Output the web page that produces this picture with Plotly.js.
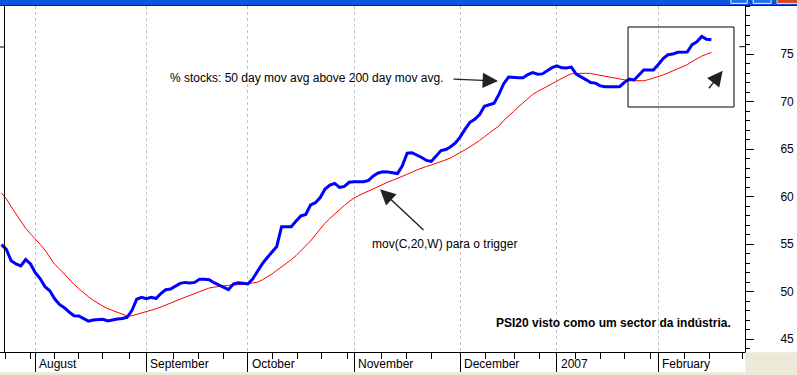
<!DOCTYPE html>
<html><head><meta charset="utf-8">
<script src="https://cdn.plot.ly/plotly-3.0.1.min.js"></script>
<style>html,body{margin:0;padding:0;background:#fff;overflow:hidden}#chart{width:797px;height:375px}</style>
</head><body><div id="chart"></div>
<script>
// trading-day index of first value
const startDay = -1;
const monthStarts = [6, 29, 50, 72, 94, 114, 135];
const monthLabels = ['August', 'September', 'October', 'November', 'December', '2007', 'February'];
const weekTicks = [-0.2, 5, 10, 15, 20, 25.5, 34.6, 39.8, 44.9, 55.2, 60.3, 65.3, 70.6, 77.7, 82.9, 88.1, 99.3, 105.3, 110.4, 117.8, 123, 128.1, 133.3, 140.5, 145.7, 152.5];
const yTicks = [45, 50, 55, 60, 65, 70, 75];
const yTickText = ['45', '50', '55', '60', '65', '70', '75'];

// % stocks: 50 day mov avg above 200 day mov avg
const pctAbove = [54.95, 54.45, 53.25, 52.92, 52.72, 53.39, 52.92, 52.01, 51.39, 50.53,
  50.10, 49.26, 48.66, 48.32, 47.87, 47.48, 47.45, 47.13, 46.90, 47.02,
  47.10, 47.10, 46.92, 47.06, 47.13, 47.19, 47.31, 48.02, 49.21, 49.41,
  49.27, 49.41, 49.28, 49.81, 50.21, 50.29, 50.63, 50.88, 50.98, 50.93,
  50.98, 51.31, 51.32, 51.26, 50.95, 50.73, 50.48, 50.21, 50.81, 50.95,
  50.88, 50.81, 51.34, 52.15, 52.92, 53.57, 54.15, 54.76, 56.84, 56.84,
  56.84, 57.44, 57.97, 58.12, 59.12, 59.36, 59.90, 60.80, 61.22, 61.39,
  60.97, 61.07, 61.51, 61.56, 61.59, 61.56, 61.70, 62.17, 62.49, 62.62,
  62.59, 62.53, 62.43, 63.24, 64.57, 64.62, 64.38, 64.12, 63.81, 63.70,
  64.26, 64.85, 64.96, 65.25, 65.65, 66.29, 67.10, 67.82, 68.14, 68.62,
  69.51, 69.69, 69.83, 70.75, 71.88, 72.58, 72.51, 72.51, 72.51, 72.84,
  73.05, 72.88, 72.91, 73.21, 73.56, 73.76, 73.55, 73.53, 73.62, 72.88,
  72.62, 72.31, 72.00, 71.94, 71.65, 71.56, 71.56, 71.56, 71.56, 72.02,
  72.37, 72.27, 72.84, 73.32, 73.32, 73.32, 73.89, 74.52, 74.92, 74.99,
  75.18, 75.21, 75.21, 75.99, 76.28, 76.85, 76.56, 76.49];

// mov(C,20,W) trigger
const trigger = [60.38, 59.77, 58.95, 58.18, 57.41, 56.67, 56.09, 55.58, 54.99, 54.39,
  53.63, 52.88, 52.40, 51.83, 51.33, 50.79, 50.31, 49.86, 49.47, 49.10,
  48.76, 48.48, 48.22, 48.03, 47.83, 47.64, 47.45, 47.47, 47.61, 47.77,
  47.87, 48.03, 48.21, 48.39, 48.61, 48.84, 49.02, 49.21, 49.42, 49.61,
  49.79, 49.98, 50.18, 50.39, 50.48, 50.56, 50.63, 50.67, 50.71, 50.74,
  50.78, 50.81, 50.92, 51.00, 51.24, 51.54, 51.87, 52.24, 52.60, 52.96,
  53.37, 53.80, 54.31, 54.81, 55.34, 55.98, 56.65, 57.20, 57.71, 58.19,
  58.65, 59.07, 59.48, 59.86, 60.12, 60.36, 60.62, 60.87, 61.13, 61.34,
  61.53, 61.72, 61.91, 62.10, 62.30, 62.56, 62.81, 63.03, 63.18, 63.33,
  63.49, 63.66, 63.87, 64.07, 64.33, 64.63, 64.93, 65.22, 65.54, 65.91,
  66.30, 66.67, 67.01, 67.43, 68.01, 68.44, 68.93, 69.41, 69.89, 70.37,
  70.76, 71.05, 71.33, 71.60, 71.89, 72.15, 72.43, 72.70, 72.91, 72.97,
  72.97, 72.97, 72.96, 72.85, 72.75, 72.64, 72.55, 72.44, 72.35, 72.27,
  72.19, 72.19, 72.19, 72.19, 72.31, 72.47, 72.60, 72.80, 73.01, 73.21,
  73.45, 73.66, 73.88, 74.21, 74.53, 74.78, 74.97, 75.18];

const FONT = "Arial, 'Liberation Sans', sans-serif";

const traces = [
  {type: 'scatter', mode: 'lines', x0: startDay, dx: 1, y: trigger,
   line: {color: '#ff0000', width: 1}, hoverinfo: 'skip'},
  {type: 'scatter', mode: 'lines', x0: startDay, dx: 1, y: pctAbove,
   line: {color: '#0000ff', width: 3}, hoverinfo: 'skip'}
];

const annotations = monthLabels.map((t, i) => ({
  xref: 'x', yref: 'paper', x: monthStarts[i], y: -0.0347,
  xanchor: 'left', yanchor: 'middle', xshift: 2, showarrow: false,
  text: t, font: {family: FONT, size: 12, color: '#000'}
}));

annotations.push(
  {xref: 'paper', yref: 'paper', x: 0.2255, y: 0.7919, xanchor: 'left', yanchor: 'middle',
   showarrow: false, text: '% stocks: 50 day mov avg above 200 day mov avg.',
   font: {family: FONT, size: 12, color: '#000'}},
  {xref: 'paper', yref: 'paper', x: 0.4966, y: 0.3121, xanchor: 'left', yanchor: 'middle',
   showarrow: false, text: 'mov(C,20,W) para o trigger',
   font: {family: FONT, size: 12, color: '#000'}},
  {xref: 'paper', yref: 'paper', x: 0.6630, y: 0.0838, xanchor: 'left', yanchor: 'middle',
   showarrow: false, text: '<b>PSI20 visto como um sector da indústria.</b>',
   font: {family: FONT, size: 12, color: '#000'}},
  {xref: 'paper', yref: 'paper', x: 0.6685, y: 0.7832, text: '', showarrow: true,
   ax: -46, ay: -2, arrowhead: 2, arrowsize: 2.2, arrowwidth: 1.4, arrowcolor: '#222'},
  {xref: 'paper', yref: 'paper', x: 0.5101, y: 0.4702, text: '', showarrow: true,
   ax: 45, ay: 42, arrowhead: 2, arrowsize: 2.2, arrowwidth: 1.4, arrowcolor: '#222'},
  {xref: 'paper', yref: 'paper', x: 0.9701, y: 0.8130, text: '', showarrow: true,
   ax: -15, ay: 19, arrowhead: 2, arrowsize: 2.2, arrowwidth: 1.4, arrowcolor: '#222'}
);

const shapes = [
  // highlight box
  {type: 'rect', xref: 'paper', yref: 'paper', x0: 0.8430, x1: 0.9852, y0: 0.7081, y1: 0.9393,
   line: {color: '#000', width: 1}},
  // left axis line
  {type: 'line', xref: 'paper', yref: 'paper', x0: 0.00604, x1: 0.00604, y0: 0, y1: 1,
   line: {color: '#000', width: 1}},
  // level markers
  {type: 'line', xref: 'paper', yref: 'paper', x0: 0, x1: 0.0054, y0: 0.8815, y1: 0.8815,
   line: {color: '#000', width: 1}},
  {type: 'line', xref: 'paper', yref: 'paper', x0: 0.9923, x1: 1.0, y0: 0.8824, y1: 0.8824,
   line: {color: '#000', width: 1}},
  // window chrome: title bar
  {type: 'rect', xref: 'paper', yref: 'paper', x0: -0.01, x1: 1.08, y0: 1.0029, y1: 1.03,
   line: {width: 0}, fillcolor: '#0b55e2'},
  {type: 'line', xref: 'paper', yref: 'paper', x0: -0.01, x1: 1.08, y0: 1.0014, y1: 1.0014,
   line: {color: '#1b1b3a', width: 1}},
  {type: 'rect', xref: 'paper', yref: 'paper', x0: 0.981, x1: 1.003, y0: 1.0075, y1: 1.03,
   line: {color: '#e8eefc', width: 1}, fillcolor: '#2a6cf0'},
  {type: 'rect', xref: 'paper', yref: 'paper', x0: 1.011, x1: 1.035, y0: 1.0075, y1: 1.03,
   line: {color: '#e8eefc', width: 1}, fillcolor: '#2a6cf0'},
  {type: 'rect', xref: 'paper', yref: 'paper', x0: 1.043, x1: 1.08, y0: 1.0075, y1: 1.03,
   line: {color: '#f0e0d8', width: 1}, fillcolor: '#d9441e'},
  // window chrome: bottom & right-bottom beige
  {type: 'rect', xref: 'paper', yref: 'paper', x0: -0.01, x1: 1.08, y0: -0.08, y1: -0.0585,
   line: {width: 0}, fillcolor: '#ece9d8'},
  {type: 'rect', xref: 'paper', yref: 'paper', x0: 1.0005, x1: 1.08, y0: -0.08, y1: -0.001,
   line: {width: 0}, fillcolor: '#ece9d8'}
];

const layout = {
  width: 797, height: 375,
  margin: {l: 0, r: 52, t: 6, b: 23, pad: 0},
  paper_bgcolor: '#ffffff', plot_bgcolor: '#ffffff',
  showlegend: false, hovermode: false,
  font: {family: FONT, size: 12, color: '#000'},
  xaxis: {
    range: [-1.311, 152.96], tickmode: 'array', tickvals: monthStarts,
    ticks: 'outside', ticklen: 19, tickwidth: 1, tickcolor: '#000',
    showticklabels: false, showgrid: true, gridcolor: '#c0c0c0', griddash: '3px,3px', gridwidth: 1,
    showline: true, linecolor: '#000', linewidth: 1, zeroline: false, fixedrange: true,
    minor: {tickmode: 'array', tickvals: weekTicks, ticks: 'outside', ticklen: 6, tickwidth: 1,
            tickcolor: '#000', showgrid: false}
  },
  yaxis: {
    side: 'right', range: [43.66, 80.05], tickmode: 'array', tickvals: yTicks, ticktext: yTickText,
    ticks: 'outside', ticklen: 8, tickwidth: 1, tickcolor: '#000',
    showline: true, linecolor: '#000', linewidth: 1, showgrid: false, zeroline: false,
    ticklabelstandoff: 24, tickfont: {family: FONT, size: 12, color: '#000'}, fixedrange: true,
    minor: {tickmode: 'linear', tick0: 0, dtick: 1, ticks: 'outside', ticklen: 4, tickwidth: 1,
            tickcolor: '#000', showgrid: false}
  },
  annotations: annotations,
  shapes: shapes
};

Plotly.newPlot('chart', traces, layout, {displayModeBar: false, staticPlot: true});
</script>
</body></html>
